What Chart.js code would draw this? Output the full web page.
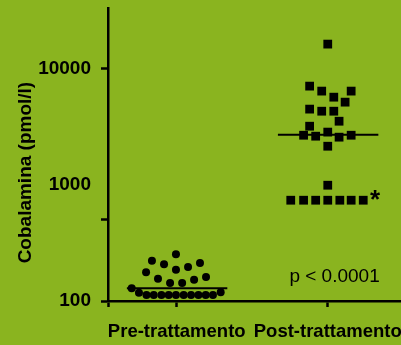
<!DOCTYPE html>
<html>
<head>
<meta charset="utf-8">
<script src="https://cdn.jsdelivr.net/npm/chart.js@4.4.1/dist/chart.umd.min.js"></script>
<style>
  html, body { margin: 0; padding: 0; background: #8ab41f; }
  canvas { display: block; }
</style>
</head>
<body>
<canvas id="chart" width="401" height="345"></canvas>
<script>
// groups on the x axis (category 1 and 2)
const categories = ['Pre-trattamento', 'Post-trattamento'];

// pre-treatment values (pmol/l) and their horizontal jitter
const preValues = [129, 118, 112.6, 112.6, 112.6, 112.6, 112.6, 112.6, 112.6, 112.6, 112.6, 112.6,
                   119, 177, 222, 207, 252, 196, 212, 155, 186, 143, 143, 152, 161];
const preJitter = [-0.298, -0.25, -0.2, -0.152, -0.101, -0.053, -0.005, 0.046, 0.095, 0.144, 0.192, 0.24,
                   0.291, -0.203, -0.164, -0.084, -0.005, 0.075, 0.154, -0.124, -0.005, -0.044, 0.036, 0.115, 0.194];

// post-treatment values (pmol/l) and their horizontal jitter
const postValues = [16150, 7030, 6370, 5650, 6370, 5120, 4460, 4280, 4280, 3510, 3180, 2660, 2610, 2830,
                    2560, 2660, 2140, 989, 735, 735, 735, 735, 735, 735, 735];
const postJitter = [0, -0.12, -0.04, 0.04, 0.155, 0.115, -0.12, -0.04, 0.04, 0.075, -0.12, -0.16, -0.08, 0,
                    0.075, 0.155, 0, 0, -0.245, -0.16, -0.08, 0, 0.08, 0.155, 0.235];

const medians = [128.5, 2680];

const yTicks = [100, 500, 1000, 10000];
const yTickLabels = ['100', '', '1000', '10000'];
const yTitle = 'Cobalamina (pmol/l)';
const pLabel = 'p < 0.0001';

const font = '"Liberation Sans", Arial, Helvetica, sans-serif';
const xMin = 0.545, xMax = 2.485;

const pts = (vals, jit, c) => vals.map((v, i) => ({ x: c + jit[i], y: v }));
const medianLine = (c, m) => [{ x: c - 0.33, y: m }, { x: c + 0.335, y: m }];

// p-value, asterisk and the y title (which sits a bit below the axis middle)
const notes = {
  id: 'notes',
  afterDatasetsDraw(chart) {
    const { ctx, scales: { x, y } } = chart;
    ctx.save();
    ctx.fillStyle = '#000';
    ctx.textAlign = 'center';
    ctx.textBaseline = 'alphabetic';
    ctx.font = '19px ' + font;
    ctx.fillText(pLabel, x.getPixelForValue(2.045), y.getPixelForValue(146.5));
    ctx.textBaseline = 'middle';
    ctx.font = 'bold 26px ' + font;
    ctx.fillText('*', x.getPixelForValue(2.313), y.getPixelForValue(735) + 1);
    ctx.font = 'bold 19px ' + font;
    ctx.translate(26, y.getPixelForValue(1270));
    ctx.rotate(-Math.PI / 2);
    ctx.fillText(yTitle, 0, 0);
    ctx.restore();
  }
};

new Chart(document.getElementById('chart'), {
  type: 'scatter',
  data: {
    datasets: [
      { data: pts(preValues, preJitter, 1), pointStyle: 'circle', pointRadius: 4, backgroundColor: '#000', borderWidth: 0 },
      { data: pts(postValues, postJitter, 2), pointStyle: 'rect', pointRadius: 6.2, backgroundColor: '#000', borderWidth: 0 },
      { data: medianLine(1, medians[0]), showLine: true, pointRadius: 0, borderColor: '#000', borderWidth: 2 },
      { data: medianLine(2, medians[1]), showLine: true, pointRadius: 0, borderColor: '#000', borderWidth: 2 }
    ]
  },
  options: {
    responsive: false,
    animation: false,
    events: [],
    layout: { autoPadding: false, padding: { top: 8, right: 0, left: 0, bottom: 0 } },
    plugins: { legend: { display: false }, tooltip: { enabled: false } },
    scales: {
      x: {
        type: 'linear', min: xMin, max: xMax,
        afterBuildTicks: s => { s.ticks = [xMin, 1, 2].map(v => ({ value: v })); },
        afterFit: s => { s.height = 44; s.paddingLeft = 0; s.paddingRight = 0; },
        border: { color: '#000', width: 2.5 },
        grid: { drawOnChartArea: false, tickLength: 6, tickWidth: 2.5, tickColor: '#000' },
        ticks: {
          autoSkip: false, maxRotation: 0, padding: 14, color: '#000',
          font: { family: font, size: 18.5, weight: 'bold' },
          callback: v => v === 1 ? categories[0] : v === 2 ? categories[1] : ''
        }
      },
      y: {
        type: 'logarithmic', min: 100, max: 33000,
        afterBuildTicks: s => { s.ticks = yTicks.map(v => ({ value: v })); },
        afterFit: s => { s.width = 108; s.paddingTop = 0; s.paddingBottom = 0; },
        border: { color: '#000', width: 2.5 },
        grid: {
          drawOnChartArea: false, tickLength: 7, tickWidth: 2.5,
          tickColor: c => (c.tick && c.tick.value === 1000) ? 'rgba(0,0,0,0)' : '#000'
        },
        ticks: {
          padding: 10, color: '#000',
          font: { family: font, size: 19, weight: 'bold' },
          callback: (v, i) => yTickLabels[i]
        }
      }
    }
  },
  plugins: [notes]
});
</script>
</body>
</html>
